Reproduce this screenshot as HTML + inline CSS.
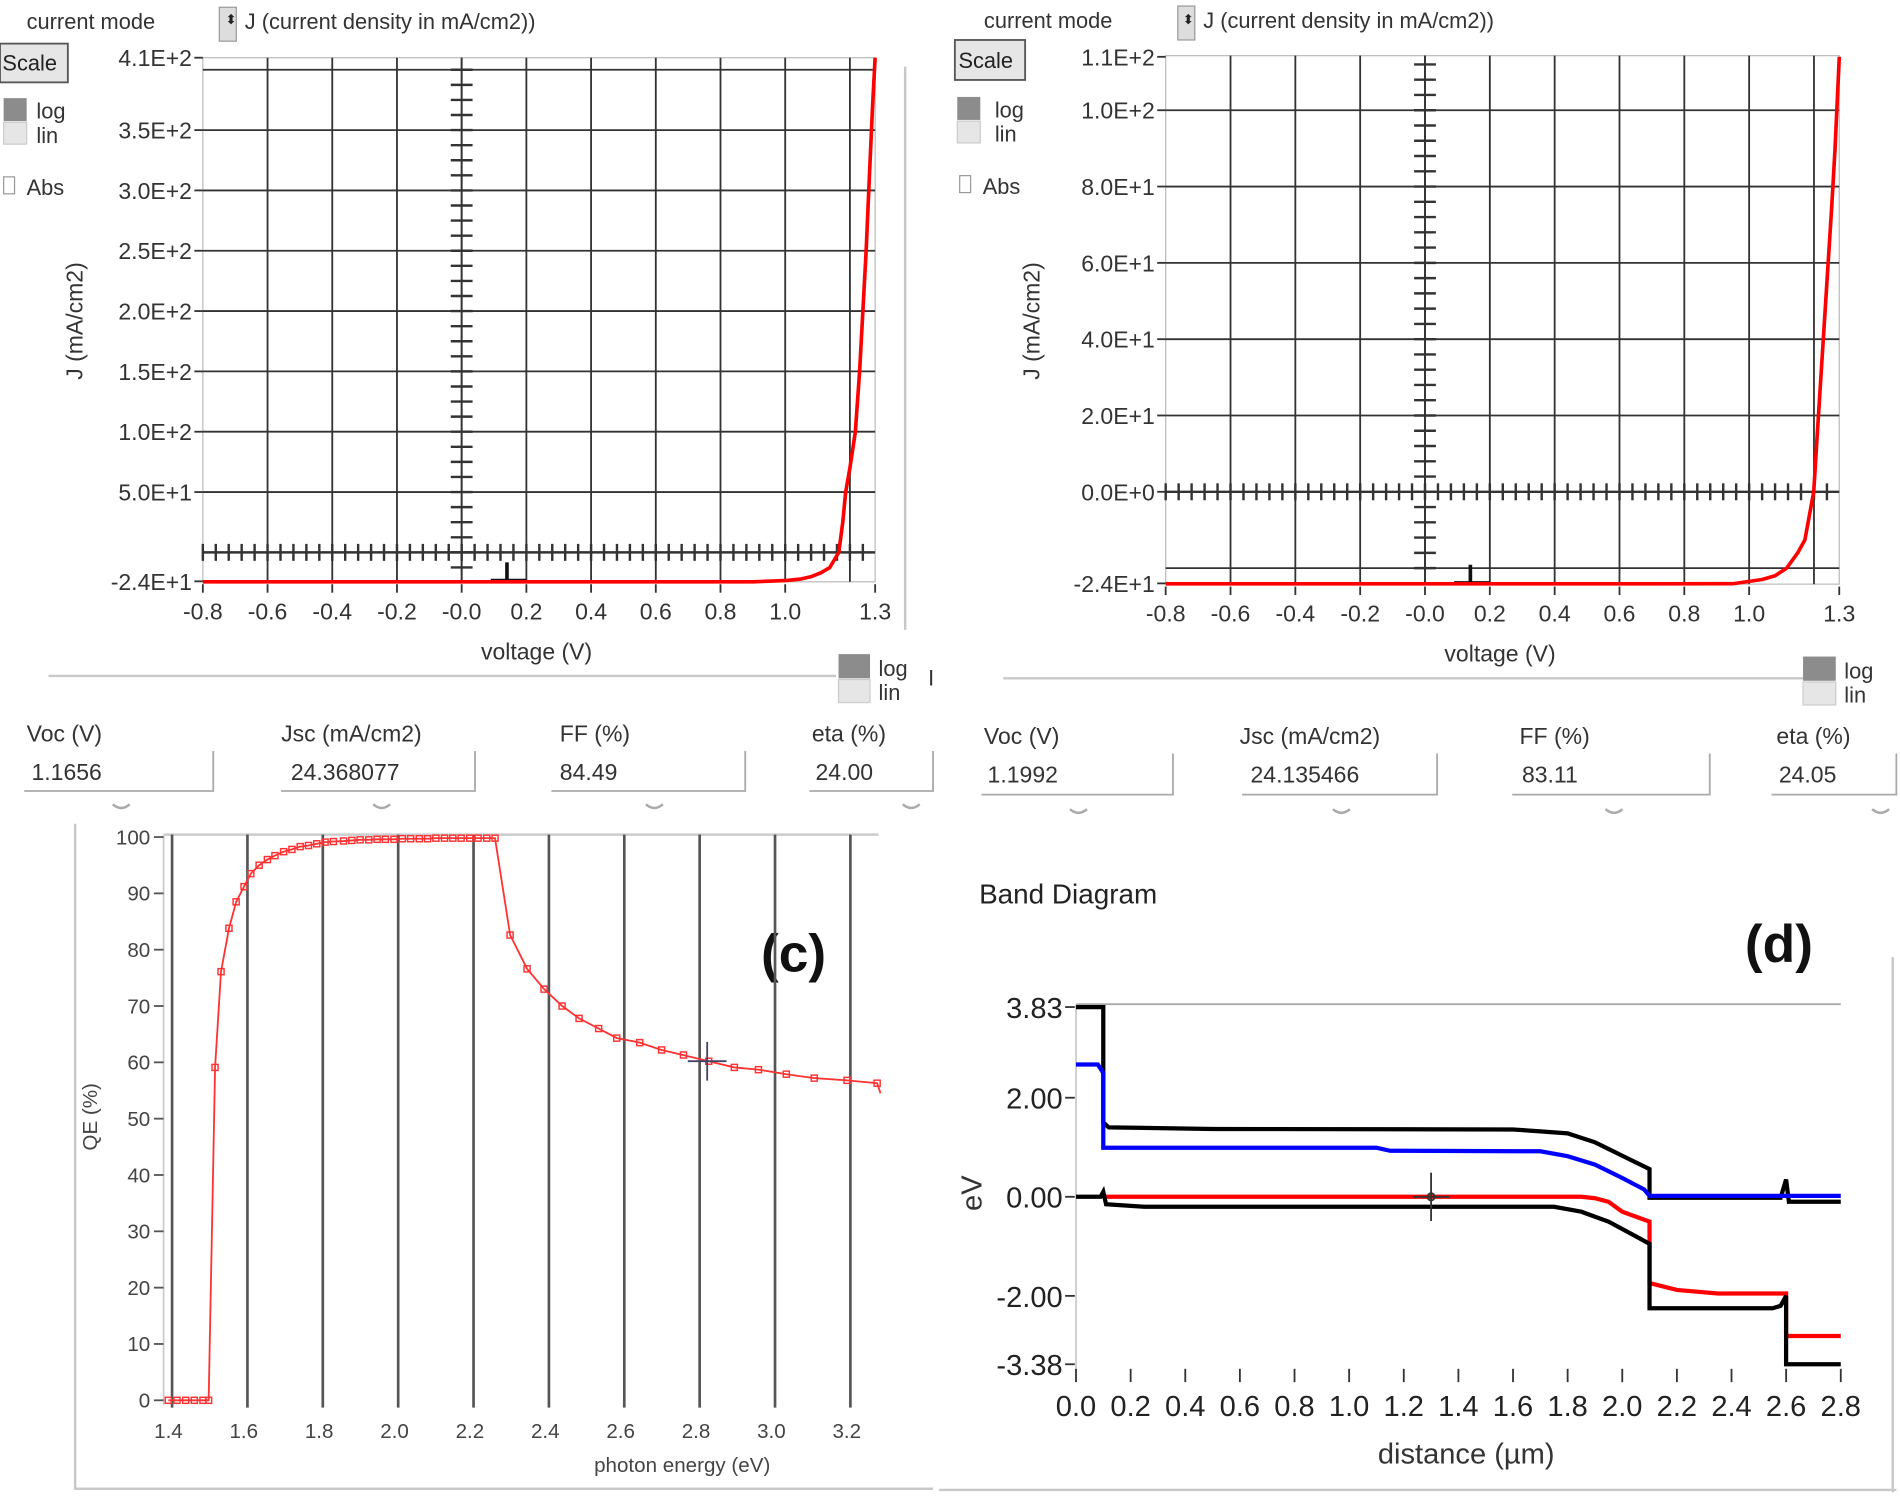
<!DOCTYPE html>
<html><head><meta charset="utf-8"><style>
html,body{margin:0;padding:0;background:#fff;}
svg{display:block;}
text{font-family:"Liberation Sans",Arial,sans-serif;}
</style></head><body>
<svg id="s" width="1900" height="1496" viewBox="0 0 1568 1235" preserveAspectRatio="none" xmlns="http://www.w3.org/2000/svg">
<g font-size="18" fill="#333">
<text x="22" y="24">current mode</text>
<rect x="181" y="6" width="14" height="28" fill="#ddd" stroke="#999"/>
<text x="186" y="20" font-size="11" fill="#222">⬍</text>
<text x="202" y="24">J (current density in mA/cm2))</text>
<rect x="0" y="36" width="56" height="32" fill="#e6e6e6" stroke="#555" stroke-width="1.5"/>
<text x="2" y="58" font-size="18" fill="#222">Scale</text>
<rect x="3" y="81" width="19" height="19" fill="#8c8c8c"/>
<rect x="3" y="101" width="19" height="18" fill="#e6e6e6" stroke="#ccc"/>
<text x="30" y="98">log</text><text x="30" y="118">lin</text>
<rect x="3" y="146" width="9" height="14" fill="#fff" stroke="#999"/>
<text x="22" y="161">Abs</text>
</g>
<g font-size="18" fill="#333">
<text x="812" y="23">current mode</text>
<rect x="972" y="5" width="14" height="28" fill="#ddd" stroke="#999"/>
<text x="976" y="20" font-size="11" fill="#222">⬍</text>
<text x="993" y="23">J (current density in mA/cm2))</text>
<rect x="788" y="33" width="58" height="33" fill="#e6e6e6" stroke="#555" stroke-width="1.5"/>
<text x="791" y="56" font-size="18" fill="#222">Scale</text>
<rect x="790" y="80" width="19" height="19" fill="#8c8c8c"/>
<rect x="790" y="100" width="19" height="18" fill="#e6e6e6" stroke="#ccc"/>
<text x="821" y="97">log</text><text x="821" y="117">lin</text>
<rect x="792" y="145" width="9" height="14" fill="#fff" stroke="#999"/>
<text x="811" y="160">Abs</text>
</g>
<g stroke="#c8c8c8" stroke-width="2" fill="none">
<line x1="40" y1="558" x2="690" y2="558"/>
<line x1="747" y1="55" x2="747" y2="520"/>
<line x1="828" y1="560" x2="1500" y2="560"/>
<line x1="62" y1="680" x2="62" y2="1230"/>
<line x1="62" y1="1229" x2="770" y2="1229"/>
<line x1="1562" y1="790" x2="1562" y2="1232"/>
<line x1="775" y1="1230" x2="1565" y2="1230"/>
</g>
<g font-size="18" fill="#333">
<rect x="692" y="540" width="26" height="20" fill="#8c8c8c"/>
<rect x="692" y="561" width="26" height="19" fill="#e6e6e6" stroke="#ccc"/>
<text x="725" y="558">log</text><text x="725" y="578">lin</text><text x="766" y="566">I</text>
<rect x="1488" y="542" width="27" height="20" fill="#8c8c8c"/>
<rect x="1488" y="563" width="27" height="19" fill="#e6e6e6" stroke="#ccc"/>
<text x="1522" y="560">log</text><text x="1522" y="580">lin</text>
</g>
<g font-size="19" fill="#333">
<text x="22" y="612">Voc (V)</text><text x="232" y="612">Jsc (mA/cm2)</text><text x="462" y="612">FF  (%)</text><text x="670" y="612">eta (%)</text>
<text x="812" y="614">Voc (V)</text><text x="1023" y="614">Jsc (mA/cm2)</text><text x="1254" y="614">FF  (%)</text><text x="1466" y="614">eta (%)</text>
<g fill="none" stroke="#aaa" stroke-width="1.5">
<path d="M20 653H176V620"/>
<path d="M232 653H392V620"/>
<path d="M455 653H615V620"/>
<path d="M668 653H770V620"/>
<path d="M810 656H968V622"/>
<path d="M1025 656H1186V622"/>
<path d="M1248 656H1411V622"/>
<path d="M1462 656H1565V622"/>
</g>
<text x="26" y="644">1.1656</text>
<text x="240" y="644">24.368077</text>
<text x="462" y="644">84.49</text>
<text x="673" y="644">24.00</text>
<text x="815" y="646">1.1992</text>
<text x="1032" y="646">24.135466</text>
<text x="1256" y="646">83.11</text>
<text x="1468" y="646">24.05</text>
<g fill="none" stroke="#aaa" stroke-width="2">
<path d="M93 664q7 6 14 0"/><path d="M308 664q7 6 14 0"/><path d="M533 664q7 6 14 0"/><path d="M745 664q7 6 14 0"/>
<path d="M883 668q7 6 14 0"/><path d="M1100 668q7 6 14 0"/><path d="M1325 668q7 6 14 0"/><path d="M1545 668q7 6 14 0"/>
</g>
</g>
<g font-size="44" font-weight="bold" fill="#111">
<text x="627" y="92">(a)</text><text x="1440" y="92">(b)</text><text x="628" y="802">(c)</text><text x="1440" y="794">(d)</text>
</g>
<text x="808" y="746" font-size="23" fill="#222">Band Diagram</text>
<g id="plots"></g>
</svg>
<script>
// ---- data ----
const ivA_V = [-0.8, 0.9, 1.006, 1.05, 1.082, 1.11, 1.138, 1.1656, 1.178, 1.187, 1.2, 1.21, 1.217, 1.23, 1.24, 1.25, 1.26, 1.27, 1.278];
const ivA_J = [-24.37, -24.37, -23.3, -22.0, -20, -17, -12.6, 0, 25, 50, 70, 88, 100, 150, 200, 250, 310, 370, 410];
const ivB_V = [-0.8, 0.95, 1.04, 1.08, 1.116, 1.15, 1.172, 1.1992, 1.21, 1.225, 1.24, 1.255, 1.265, 1.278];
const ivB_J = [-24.14, -24.1, -23, -22, -20, -16, -12.6, 0, 15, 35, 55, 75, 90, 114];
const ivA_yTickVals = [410, 350, 300, 250, 200, 150, 100, 50, -24];
const ivA_yTickLabels = ["4.1E+2","3.5E+2","3.0E+2","2.5E+2","2.0E+2","1.5E+2","1.0E+2","5.0E+1","-2.4E+1"];
const ivB_yTickVals = [114, 100, 80, 60, 40, 20, 0, -24];
const ivB_yTickLabels = ["1.1E+2","1.0E+2","8.0E+1","6.0E+1","4.0E+1","2.0E+1","0.0E+0","-2.4E+1"];
const iv_xTickVals = [-0.8,-0.6,-0.4,-0.2,0,0.2,0.4,0.6,0.8,1.0,1.278];
const iv_xTickLabels = ["-0.8","-0.6","-0.4","-0.2","-0.0","0.2","0.4","0.6","0.8","1.0","1.3"];
const qe_E = [1.39,1.413,1.436,1.459,1.482,1.497,1.514,1.530,1.551,1.570,1.591,1.609,1.631,1.653,1.673,1.696,1.718,1.740,1.762,1.784,1.806,1.828,1.855,1.877,1.899,1.922,1.944,1.966,1.989,2.011,2.033,2.056,2.078,2.100,2.123,2.145,2.167,2.190,2.212,2.235,2.257,2.297,2.342,2.387,2.435,2.480,2.532,2.580,2.641,2.699,2.757,2.824,2.892,2.956,3.030,3.104,3.191,3.271];
const qe_Q = [0,0,0,0,0,0,59.1,76.1,83.8,88.5,91.2,93.5,95.0,96.0,96.7,97.4,97.8,98.3,98.5,98.8,99.1,99.2,99.3,99.4,99.5,99.5,99.6,99.6,99.6,99.7,99.7,99.7,99.7,99.8,99.8,99.8,99.8,99.8,99.8,99.8,99.8,82.6,76.6,73.0,70.0,67.8,66.0,64.3,63.5,62.2,61.3,60.2,59.1,58.7,57.9,57.2,56.8,56.3];
const qe_xTicks = [1.4,1.6,1.8,2.0,2.2,2.4,2.6,2.8,3.0,3.2];
const qe_yTicks = [0,10,20,30,40,50,60,70,80,90,100];
const ecX = [0,0.1,0.1,0.12,0.5,1.6,1.7,1.8,1.9,2.0,2.1,2.1,2.58,2.6,2.61,2.8];
const ecY = [3.83,3.83,1.5,1.4,1.37,1.36,1.32,1.28,1.1,0.83,0.56,-0.02,-0.02,0.35,-0.1,-0.1];
const efnX = [0,0.08,0.1,0.1,1.1,1.15,1.7,1.8,1.9,2.0,2.08,2.1,2.8];
const efnY = [2.67,2.67,2.5,0.99,0.99,0.93,0.92,0.82,0.65,0.38,0.15,0.02,0.02];
const efpX = [0.1,1.85,1.9,1.95,2.0,2.1,2.1,2.2,2.35,2.6,2.6,2.8];
const efpY = [0.0,0.0,-0.03,-0.1,-0.3,-0.5,-1.74,-1.88,-1.95,-1.95,-2.81,-2.81];
const evX = [0,0.09,0.1,0.11,0.25,1.75,1.85,1.95,2.05,2.1,2.1,2.55,2.58,2.6,2.6,2.8];
const evY = [0,0,0.1,-0.15,-0.2,-0.2,-0.3,-0.5,-0.8,-0.95,-2.25,-2.25,-2.2,-2.0,-3.38,-3.38];
const bd_yTickVals = [3.83, 2.0, 0.0, -2.0, -3.38];
const bd_yTickLabels = ["3.83","2.00","0.00","-2.00","-3.38"];
const bd_xTicks = [0,0.2,0.4,0.6,0.8,1.0,1.2,1.4,1.6,1.8,2.0,2.2,2.4,2.6,2.8];

// ---- helpers ----
const NS = "http://www.w3.org/2000/svg";
const root = document.getElementById('plots');
function mk(tag, attrs, parent) {
  const e = document.createElementNS(NS, tag);
  for (const k in attrs) e.setAttribute(k, attrs[k]);
  (parent || root).appendChild(e);
  return e;
}
function pathFrom(xs, ys, fx, fy) {
  return xs.map((v, i) => (i ? 'L' : 'M') + fx(v).toFixed(1) + ' ' + fy(ys[i]).toFixed(1)).join('');
}

// ---- IV panels ----
function ivPanel(id, o) {
  const g = mk('g', {});
  
  
  const fx = v => o.x0 + o.sx * v, fy = j => o.y0 - o.sy * j;
  const L = fx(-0.8), R = fx(1.278), T = fy(o.yMax), B = fy(o.yMin);
  mk('rect', {x: L, y: T, width: R - L, height: B - T, fill: '#fff', stroke: '#bbb', 'stroke-width': 1}, g);
  o.gridH.forEach(v => {
    const l = mk('line', {x1: L, x2: R, y1: fy(v), y2: fy(v), stroke: '#333', 'stroke-width': 1.5}, g);
    
    
  });
  for (let v = -0.6; v < 1.25; v += 0.2) {
    const l = mk('line', {x1: fx(v), x2: fx(v), y1: T, y2: B, stroke: '#333', 'stroke-width': 1.5}, g);
    
    
  }
  mk('line', {x1: L, x2: R, y1: fy(0), y2: fy(0), stroke: '#333', 'stroke-width': 2}, g);
  for (let v = -0.8; v <= 1.28; v += 0.04) mk('line', {x1: fx(v), x2: fx(v), y1: fy(0) - 7, y2: fy(0) + 7, stroke: '#333', 'stroke-width': 2}, g);
  for (let j = o.minorStart; j <= o.yMax - 2; j += o.minor) mk('line', {x1: fx(0) - 9, x2: fx(0) + 9, y1: fy(j), y2: fy(j), stroke: '#333', 'stroke-width': 2}, g);
  mk('line', {x1: fx(0), x2: fx(0), y1: T, y2: B, stroke: '#333', 'stroke-width': 1.5}, g);
  o.yVals.forEach((v, i) => {
    mk('line', {x1: L - 7, x2: L, y1: fy(v), y2: fy(v), stroke: '#333', 'stroke-width': 1.5}, g);
    const t = mk('text', {x: L - 9, y: fy(v) + 7, 'text-anchor': 'end', 'font-size': 19, fill: '#333'}, g);
    t.textContent = o.yLabels[i];
    
    
  });
  iv_xTickVals.forEach((v, i) => {
    mk('line', {x1: fx(v), x2: fx(v), y1: B + 2, y2: B + 9, stroke: '#333', 'stroke-width': 1.5}, g);
    const t = mk('text', {x: fx(v), y: B + 31, 'text-anchor': 'middle', 'font-size': 19, fill: '#333'}, g);
    t.textContent = iv_xTickLabels[i];
    
    
  });
  mk('path', {d: `M${fx(0.14)} ${B - 16}V${B - 2}M${fx(0.09)} ${B - 1}H${fx(0.2)}`, stroke: '#111', 'stroke-width': 3, fill: 'none'}, g);
  const c = mk('path', {d: pathFrom(o.V, o.J, fx, fy), fill: 'none', stroke: '#f00', 'stroke-width': 3, 'stroke-linejoin': 'round'}, g);
  
  
  const yt = mk('text', {x: 0, y: 0, 'font-size': 19, fill: '#333', 'text-anchor': 'middle', transform: `translate(${o.ytx},265) rotate(-90)`}, g);
  yt.textContent = 'J (mA/cm2)';
  
  
  const xt = mk('text', {x: (L + R) / 2 - 2, y: B + 64, 'font-size': 19, fill: '#333', 'text-anchor': 'middle'}, g);
  xt.textContent = 'voltage (V)';
  
  
}
ivPanel('a', {x0: 381, sx: 267, y0: 456, sy: 0.996, yMax: 410, yMin: -24.4, gridH: [50,100,150,200,250,300,350,400], minor: 12.5, minorStart: -12.5, V: ivA_V, J: ivA_J, yVals: ivA_yTickVals, yLabels: ivA_yTickLabels, ytx: 68});
ivPanel('b', {x0: 1176, sx: 267.5, y0: 406, sy: 3.15, yMax: 114.3, yMin: -24.2, gridH: [-20,20,40,60,80,100], minor: 4, minorStart: -20, V: ivB_V, J: ivB_J, yVals: ivB_yTickVals, yLabels: ivB_yTickLabels, ytx: 858});

// ---- QE panel ----
(function () {
  const g = mk('g', {});
  
  
  const fx = e => 142 + 311 * (e - 1.4), fy = q => 1156 - 4.65 * q;
  mk('line', {x1: 135, x2: 725, y1: 689, y2: 689, stroke: '#ccc', 'stroke-width': 2}, g);
  mk('line', {x1: 135, x2: 135, y1: 689, y2: 1160, stroke: '#ccc', 'stroke-width': 1.5}, g);
  qe_xTicks.forEach(e => {
    const l = mk('line', {x1: fx(e), x2: fx(e), y1: 689, y2: 1162, stroke: '#555', 'stroke-width': 2.2}, g);
    
    
    const t = mk('text', {x: fx(e) - 3, y: 1187, 'text-anchor': 'middle', 'font-size': 17, fill: '#444'}, g);
    t.textContent = e.toFixed(1);
    
    
  });
  qe_yTicks.forEach(q => {
    mk('line', {x1: 127, x2: 135, y1: fy(q), y2: fy(q), stroke: '#555', 'stroke-width': 1.5}, g);
    const t = mk('text', {x: 124, y: fy(q) + 6, 'text-anchor': 'end', 'font-size': 17, fill: '#444'}, g);
    t.textContent = String(q);
    
    
  });
  const lastE = 3.28, lastQ = 54.5;
  const c = mk('path', {d: pathFrom(qe_E, qe_Q, fx, fy) + `L${fx(lastE)} ${fy(lastQ)}`, fill: 'none', stroke: '#f33', 'stroke-width': 1.5}, g);
  
  
  qe_E.forEach((e, i) => {
    const m = mk('rect', {x: fx(e) - 2.5, y: fy(qe_Q[i]) - 2.5, width: 5, height: 5, fill: 'none', stroke: '#f33', 'stroke-width': 1.2}, g);
    
    
  });
  mk('path', {d: `M${fx(2.82)} ${fy(60.2) - 16}v32M${fx(2.82) - 16} ${fy(60.2)}h32`, stroke: '#446', 'stroke-width': 1.5}, g);
  const yt = mk('text', {x: 0, y: 0, 'font-size': 17, fill: '#444', 'text-anchor': 'middle', transform: 'translate(80,922) rotate(-90)'}, g);
  yt.textContent = 'QE (%)';
  
  
  const xt = mk('text', {x: 563, y: 1215, 'font-size': 17, fill: '#444', 'text-anchor': 'middle'}, g);
  xt.textContent = 'photon energy (eV)';
  
  
})();

// ---- Band diagram ----
(function () {
  const g = mk('g', {});
  
  
  const fx = d => 888 + 225.4 * d, fy = v => 988 - 40.9 * v;
  mk('line', {x1: fx(0), x2: fx(2.8), y1: 829, y2: 829, stroke: '#aaa', 'stroke-width': 1.5}, g);
  mk('line', {x1: fx(0), x2: fx(0), y1: 829, y2: 1132, stroke: '#ccc', 'stroke-width': 1.5}, g);
  bd_yTickVals.forEach((v, i) => {
    mk('line', {x1: 879, x2: 887, y1: fy(v), y2: fy(v), stroke: '#333', 'stroke-width': 1.5}, g);
    const t = mk('text', {x: 877, y: fy(v) + 9, 'text-anchor': 'end', 'font-size': 24, fill: '#222', 'font-family': '"Liberation Sans Narrow","Liberation Sans",sans-serif'}, g);
    t.textContent = bd_yTickLabels[i];
    
    
  });
  bd_xTicks.forEach(d => {
    mk('line', {x1: fx(d), x2: fx(d), y1: 1130, y2: 1141, stroke: '#333', 'stroke-width': 1.5}, g);
    const t = mk('text', {x: fx(d), y: 1169, 'text-anchor': 'middle', 'font-size': 24, fill: '#222', 'font-family': '"Liberation Sans Narrow","Liberation Sans",sans-serif'}, g);
    t.textContent = d.toFixed(1);
    
    
  });
  const series = [[efpX, efpY, '#f00', 'fermi-level-p'], [evX, evY, '#000', 'valence-band'], [ecX, ecY, '#000', 'conduction-band'], [efnX, efnY, '#00f', 'fermi-level-n']];
  series.forEach(s => {
    const p = mk('path', {d: pathFrom(s[0], s[1], fx, fy), fill: 'none', stroke: s[2], 'stroke-width': 3.5}, g);
    
    
  });
  mk('path', {d: `M${fx(1.3)} ${fy(0) - 20}v40M${fx(1.3) - 15} ${fy(0)}h30`, stroke: '#333', 'stroke-width': 1.5}, g);
  mk('circle', {cx: fx(1.3), cy: fy(0), r: 3, fill: 'none', stroke: '#333', 'stroke-width': 1.5}, g);
  const yt = mk('text', {x: 0, y: 0, 'font-size': 24, fill: '#333', 'text-anchor': 'middle', transform: 'translate(810,985) rotate(-90)'}, g);
  yt.textContent = 'eV';
  
  
  const xt = mk('text', {x: 1210, y: 1208, 'font-size': 24, fill: '#333', 'text-anchor': 'middle', 'font-family': '"Liberation Sans Narrow","Liberation Sans",sans-serif'}, g);
  xt.textContent = 'distance (µm)';
  
  
})();
</script>
</body></html>
